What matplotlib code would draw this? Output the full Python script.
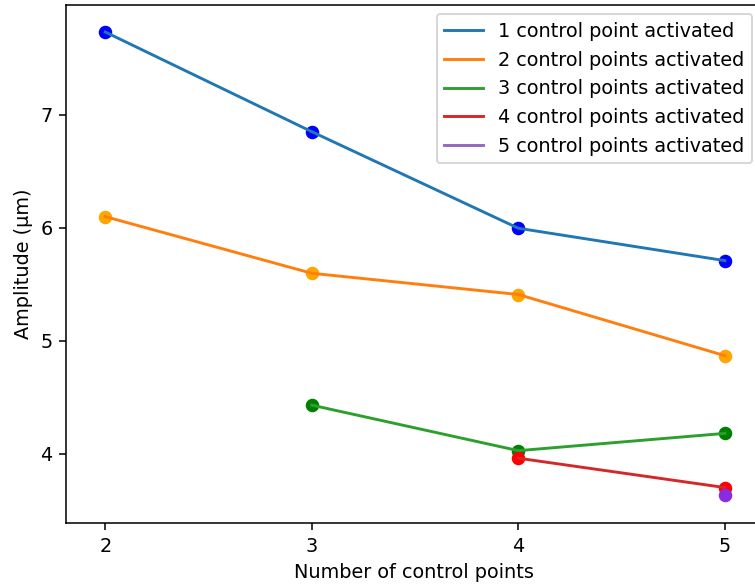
import matplotlib
matplotlib.use('Agg')
import matplotlib.pyplot as plt

# amplitude, one list per number of activated points
x1 = [2, 3, 4, 5]
amp1 = [7.735, 6.852, 5.997, 5.71]
x2 = [2, 3, 4, 5]
amp2 = [6.10, 5.598, 5.41, 4.868]
x3 = [3, 4, 5]
amp3 = [4.43, 4.027, 4.18]
x4 = [4, 5]
amp4 = [3.96, 3.70]
x5 = [5]
amp5 = [3.63]

labels = ['1 control point activated', '2 control points activated',
          '3 control points activated', '4 control points activated',
          '5 control points activated']
dot_colors = ['blue', 'orange', 'green', 'red', 'blueviolet']

DPI = 139
fig = plt.figure(figsize=(755/DPI, 587/DPI), dpi=DPI)
ax = fig.add_axes([0.0874, 0.109, 0.922, 0.883])

xs = [x1, x2, x3, x4, x5]
ys = [amp1, amp2, amp3, amp4, amp5]
for i in range(5):
    ax.plot(xs[i], ys[i], label=labels[i])  # line in default colour
    ax.scatter(xs[i], ys[i], color=dot_colors[i], zorder=1)

ax.set_xlim(1.81, 5.18)
ax.set_ylim(3.386, 7.977)
ax.set_xticks([2, 3, 4, 5])
ax.set_yticks([4, 5, 6, 7])

ax.set_xlabel('Number of control points')
ax.set_ylabel('Amplitude (μm)')
ax.legend(loc='upper right')

fig.savefig('out.png', dpi=DPI)
